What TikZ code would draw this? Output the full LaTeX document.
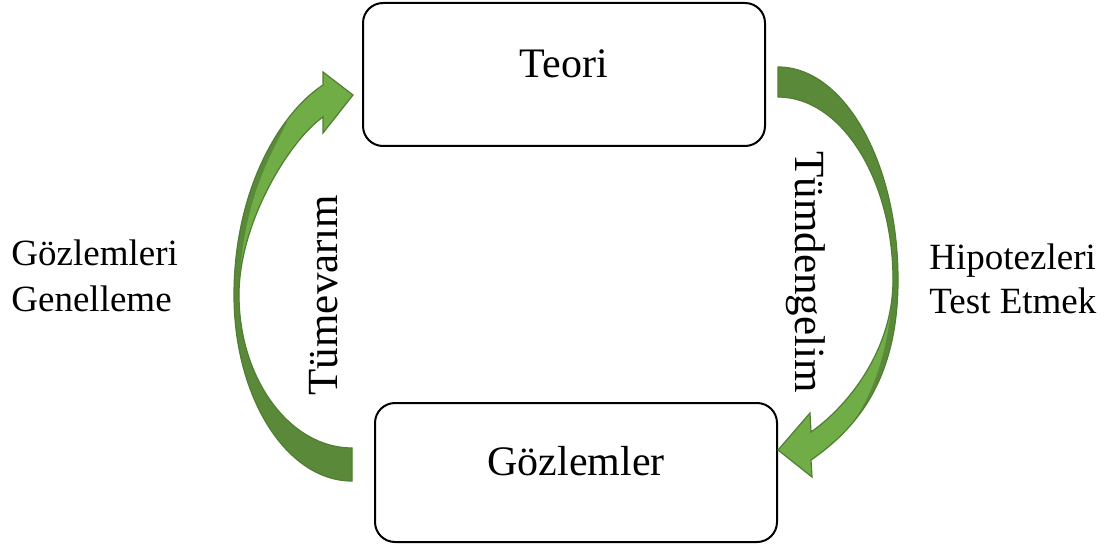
\documentclass[tikz,border=0pt]{standalone}
\usepackage{fontspec}
\setmainfont{Liberation Serif}
\definecolor{leaf}{HTML}{70AD47}
\definecolor{leafdark}{HTML}{5A8A39}
\definecolor{leafline}{HTML}{507E32}
\begin{document}
\begin{tikzpicture}[x=0.5pt,y=-0.5pt,
  box/.style={draw=black, line width=1pt, rounded corners=10pt, inner sep=0pt},
  boxtext/.style={font=\fontsize{21}{25}\selectfont, inner sep=0pt, anchor=base},
  sidetext/.style={font=\fontsize{18.5}{22}\selectfont, inner sep=0pt, anchor=base west},
  turntext/.style={font=\fontsize{21.5}{26}\selectfont, inner sep=0pt, anchor=base},
  bandline/.style={draw=leafline, line width=0.6pt, line join=miter}]
\useasboundingbox (0,0) rectangle (1117,545);

% the two boxes
\node[box, minimum width=201pt, minimum height=71.5pt] (teori) at (564,74.5) {};
\node[box, minimum width=201pt, minimum height=69.5pt] (gozlem) at (576,472.5) {};
\node[boxtext] (teoriT) at (564,78) {Teori};
\node[boxtext] (gozlemT) at (576,475) {Gözlemler};

% outlines of the two curved arrows
\def\leftband{(352,481) .. controls (287,481) and (234,398) .. (234,295)
  .. controls (234,190) and (280,113) .. (323,85)
  -- (323,72) -- (353,95) -- (323,133) -- (323,117)
  .. controls (290,140) and (239,222) .. (239,295)
  .. controls (239,379) and (290,448) .. (352,448) -- cycle}
\def\rightband{(778,67) .. controls (844,67) and (898,162) .. (898,280)
  .. controls (898,380) and (856,429) .. (811,460)
  -- (812,477) -- (778,450) -- (810,413) -- (811,432)
  .. controls (848,406) and (893,350) .. (893,280)
  .. controls (893,179) and (841,97) .. (778,97) -- cycle}

% left curved arrow: Gözlemler -> Teori
\fill[leaf] \leftband;
\begin{scope}
  \clip \leftband;
  % back of the band, seen below the fold
  \fill[leafdark] (200,500) -- (360,500) -- (360,448)
    -- (352,448) .. controls (290,448) and (239,379) .. (239,295)
    .. controls (241,205) and (268,160) .. (287,122) -- (200,122) -- cycle;
\end{scope}
\path[bandline] \leftband;

% right curved arrow: Teori -> Gözlemler
\fill[leaf] \rightband;
\begin{scope}
  \clip \rightband;
  % back of the band, seen above the fold
  \fill[leafdark] (770,50) -- (930,50) -- (930,426) -- (850,426)
    .. controls (874,395) and (891,345) .. (893,280)
    .. controls (893,179) and (841,97) .. (778,97) -- (770,97) -- cycle;
\end{scope}
\path[bandline] \rightband;

% labels along the arrows
\node[turntext, rotate=90] (tumevarim) at (337,295) {Tümevarım};
\node[turntext, rotate=-90] (tumdengelim) at (795,272) {Tümdengelim};

% side notes
\node[sidetext] (leftA) at (11,265) {Gözlemleri};
\node[sidetext] (leftB) at (11,311) {Genelleme};
\node[sidetext] (rightA) at (929,269) {Hipotezleri};
\node[sidetext] (rightB) at (929,313) {Test Etmek};
\end{tikzpicture}
\end{document}
